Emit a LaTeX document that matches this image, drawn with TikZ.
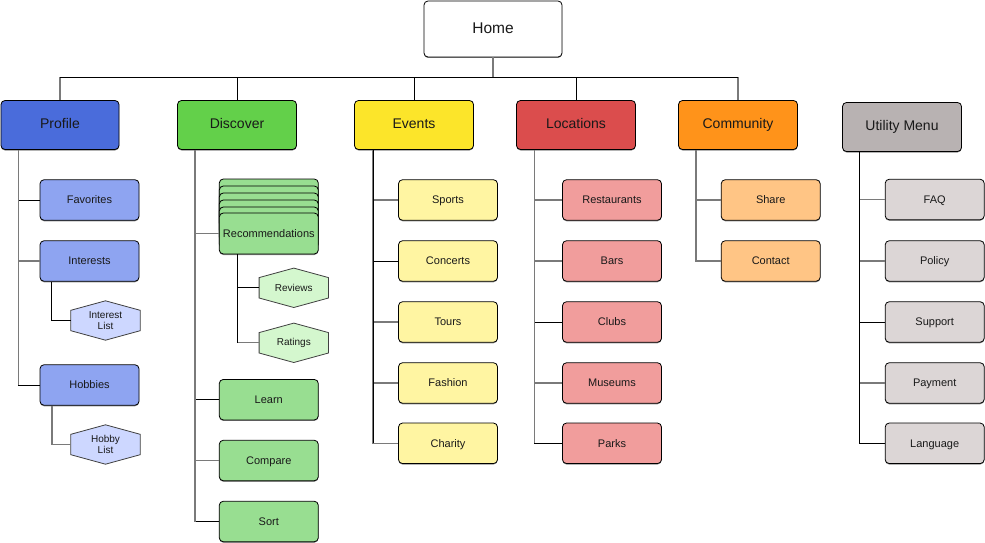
\documentclass[tikz,border=0pt]{standalone}
\usepackage{fontspec}
\setmainfont{Liberation Sans}
\usetikzlibrary{backgrounds,shadows}
\definecolor{cProf}{HTML}{4A6CDB}
\definecolor{cProfL}{HTML}{8EA4F1}
\definecolor{cProfH}{HTML}{CDD7FF}
\definecolor{cDisc}{HTML}{63D04A}
\definecolor{cDiscL}{HTML}{98DE91}
\definecolor{cDiscH}{HTML}{D4F7CE}
\definecolor{cEvt}{HTML}{FCE52A}
\definecolor{cEvtL}{HTML}{FFF5A2}
\definecolor{cLoc}{HTML}{DB4D4D}
\definecolor{cLocL}{HTML}{F19D9C}
\definecolor{cCom}{HTML}{FF931A}
\definecolor{cComL}{HTML}{FFC585}
\definecolor{cUti}{HTML}{B8B2B2}
\definecolor{cUtiL}{HTML}{DCD6D6}
\definecolor{lnGray}{HTML}{7A7A7A}
\begin{document}
\begin{tikzpicture}[x=1pt,y=-1pt,
  box/.style={rectangle, rounded corners=4pt, draw=black, line width=0.8pt, inner sep=0pt, align=center, text=black!90,
    text height=0.76em, text depth=0pt,
    drop shadow={shadow xshift=0pt, shadow yshift=-1pt, opacity=0.45, fill=black}},
  topbox/.style={box, minimum width=119pt, minimum height=49pt, font=\fontsize{14}{16}\selectfont},
  subbox/.style={box, minimum width=99pt, minimum height=40.5pt, font=\fontsize{11}{13}\selectfont},
  hexnode/.style={rectangle, minimum width=69pt, minimum height=39pt, inner sep=0pt, align=center, text=black!90,
    font=\fontsize{10}{11}\selectfont},
  hexfill/.style={draw=black!75, line width=0.8pt, fill=#1},
  blk/.style={draw=black, line width=1pt},
  gry/.style={draw=lnGray, line width=1.3pt},
]
\useasboundingbox (0,0) rectangle (985,543);

% ---------- top level ----------
\node[box, fill=white, minimum width=138pt, minimum height=56pt, text height=0.95em, font=\fontsize{15.5}{18}\selectfont] (home) at (493,29) {Home};
\node[topbox, fill=cProf, minimum width=118pt] (profile) at (60,125) {Profile};
\node[topbox, fill=cDisc] (discover) at (237,125) {Discover};
\node[topbox, fill=cEvt] (events) at (414,125) {Events};
\node[topbox, fill=cLoc] (locations) at (576,125) {Locations};
\node[topbox, fill=cCom] (community) at (738,125) {Community};
\node[topbox, fill=cUti] (utility) at (902,127) {Utility Menu};

% ---------- Profile ----------
\node[subbox, fill=cProfL] (fav) at (89.5,200) {Favorites};
\node[subbox, fill=cProfL] (int) at (89.5,261) {Interests};
\node[subbox, fill=cProfL] (hob) at (89.5,385) {Hobbies};
\node[hexnode] (il) at (105.5,320.5) {Interest\\List};
\node[hexnode] (hl) at (105.5,444.5) {Hobby\\List};

% ---------- Discover ----------
\node[subbox, fill=cDiscL, minimum height=41pt] (recA) at (268.8,199.5) {};
\node[subbox, fill=cDiscL, minimum height=41pt] (recB) at (268.8,206.5) {};
\node[subbox, fill=cDiscL, minimum height=41pt] (recC) at (268.8,213.5) {};
\node[subbox, fill=cDiscL, minimum height=41pt] (recD) at (268.8,220.5) {};
\node[subbox, fill=cDiscL, minimum height=41pt] (recE) at (268.8,227.5) {};
\node[subbox, fill=cDiscL, minimum height=41pt] (rec) at (268.8,233.5) {Recommendations};
\node[hexnode] (rev) at (293.8,287.8) {Reviews};
\node[hexnode] (rat) at (293.8,342.8) {Ratings};
\node[subbox, fill=cDiscL] (learn) at (268.8,399.7) {Learn};
\node[subbox, fill=cDiscL] (comp) at (268.8,460.5) {Compare};
\node[subbox, fill=cDiscL] (sort) at (268.8,521.5) {Sort};

% ---------- Events ----------
\node[subbox, fill=cEvtL] (sports) at (448,200) {Sports};
\node[subbox, fill=cEvtL] (conc) at (448,261) {Concerts};
\node[subbox, fill=cEvtL] (tours) at (448,322) {Tours};
\node[subbox, fill=cEvtL] (fash) at (448,383) {Fashion};
\node[subbox, fill=cEvtL] (char) at (448,443.3) {Charity};

% ---------- Locations ----------
\node[subbox, fill=cLocL] (rest) at (612,200) {Restaurants};
\node[subbox, fill=cLocL] (bars) at (612,261) {Bars};
\node[subbox, fill=cLocL] (clubs) at (612,322) {Clubs};
\node[subbox, fill=cLocL] (mus) at (612,383) {Museums};
\node[subbox, fill=cLocL] (parks) at (612,443.3) {Parks};

% ---------- Community ----------
\node[subbox, fill=cComL] (share) at (770.7,200) {Share};
\node[subbox, fill=cComL] (cont) at (770.7,261) {Contact};

% ---------- Utility ----------
\node[subbox, fill=cUtiL] (faq) at (934.7,199.5) {FAQ};
\node[subbox, fill=cUtiL] (pol) at (934.7,261) {Policy};
\node[subbox, fill=cUtiL] (sup) at (934.7,322) {Support};
\node[subbox, fill=cUtiL] (pay) at (934.7,383) {Payment};
\node[subbox, fill=cUtiL] (lang) at (934.7,443.3) {Language};

% ---------- hexagon outlines ----------
\begin{pgfonlayer}{background}
\foreach \h/\c in {il/cProfH, hl/cProfH, rev/cDiscH, rat/cDiscH}{
  \path[hexfill=\c] (\h.north) -- ([yshift=-9.5pt]\h.north east) -- ([yshift=9.5pt]\h.south east)
    -- (\h.south) -- ([yshift=9.5pt]\h.south west) -- ([yshift=-9.5pt]\h.north west) -- cycle;
}
\end{pgfonlayer}

% ---------- connectors: Home ----------
\path (home.south) ++(0,20) coordinate (bus);
\draw[gry] (home.south) -- (bus) -| (profile.north);
\draw[gry] (home.south) -- (bus) -| (community.north);
\draw[blk] (home.south) -- (bus) -| (discover.north);
\draw[blk] (home.south) -- (bus) -| (events.north);
\draw[blk] (home.south) -- (bus) -| (locations.north);
\draw[blk] (bus -| profile.north) -- (bus -| community.north);
\draw[gry] (home.south) -- (bus);

% ---------- connectors: Profile ----------
\coordinate (tp) at ([xshift=18pt]profile.south west);
\draw[blk] (tp) |- (fav.west);
\draw[blk] (tp) |- (hob.west);
\draw[gry] (tp) |- (int.west);
\draw[gry] (tp) -- (tp |- hob.west);
\coordinate (ti) at ([xshift=12pt]int.south west);
\draw[blk] (ti) |- (il.west);
\coordinate (th) at ([xshift=12.5pt]hob.south west);
\draw[gry] (th) |- (hl.west);

% ---------- connectors: Discover ----------
\coordinate (td) at ([xshift=18pt]discover.south west);
\draw[blk] (td) |- (learn.west);
\draw[blk] (td) |- (sort.west);
\draw[gry] (td) |- (rec.west);
\draw[gry] (td) |- (comp.west);
\draw[gry] (td) -- (td |- sort.west);
\coordinate (tr) at ([xshift=18.4pt]rec.south west);
\draw[gry] (tr) |- (rat.west);
\draw[blk] (tr) |- (rev.west);
\draw[blk] (tr) -- (tr |- rat.west);

% ---------- connectors: Events ----------
\coordinate (te) at ([xshift=19pt]events.south west);
\draw[gry] (te) |- (sports.west);
\draw[blk] (te) |- (conc.west);
\draw[gry] (te) |- (tours.west);
\draw[gry] (te) |- (fash.west);
\draw[gry] (te) |- (char.west);
\draw[blk] (te) -- (te |- char.west);

% ---------- connectors: Locations ----------
\coordinate (tl) at ([xshift=18.5pt]locations.south west);
\draw[gry] (tl) |- (rest.west);
\draw[gry] (tl) |- (bars.west);
\draw[blk] (tl) |- (clubs.west);
\draw[gry] (tl) |- (mus.west);
\draw[blk] (tl) |- (parks.west);
\draw[gry] (tl) -- (tl |- parks.west);

% ---------- connectors: Community ----------
\coordinate (tc) at ([xshift=18pt]community.south west);
\draw[gry] (tc) |- (share.west);
\draw[gry] (tc) |- (cont.west);

% ---------- connectors: Utility ----------
\coordinate (tu) at ([xshift=17.5pt]utility.south west);
\draw[gry] (tu) |- (faq.west);
\draw[gry] (tu) |- (pol.west);
\draw[blk] (tu) |- (sup.west);
\draw[gry] (tu) |- (pay.west);
\draw[blk] (tu) |- (lang.west);
\draw[blk] (tu) -- (tu |- lang.west);
\end{tikzpicture}
\end{document}
